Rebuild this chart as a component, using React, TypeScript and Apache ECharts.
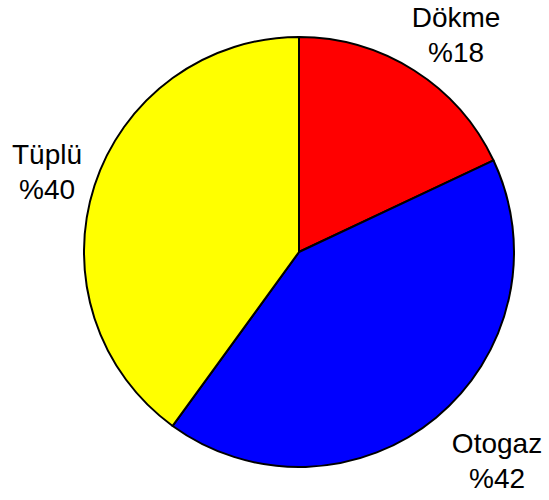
import React, { useEffect, useRef } from "react";
import * as echarts from "echarts";

const categories = ["Dökme", "Otogaz", "Tüplü"];
const values = [18, 42, 40];
const colors = ["#FF0000", "#0000FF", "#FFFF00"];
// label block centres (layout only)
const labelPos = [
  [456, 35],
  [497, 461],
  [47, 172],
];

export default function App() {
  const ref = useRef<HTMLDivElement>(null);
  useEffect(() => {
    if (!ref.current) return;
    const chart = echarts.init(ref.current, undefined, { renderer: "svg" });
    chart.setOption({
      animation: false,
      backgroundColor: "#ffffff",
      series: [
        {
          type: "pie",
          center: [299, 252],
          radius: 215,
          startAngle: 90,
          clockwise: true,
          avoidLabelOverlap: false,
          data: categories.map((c, i) => ({
            name: c,
            value: values[i],
            itemStyle: { color: colors[i] },
          })),
          itemStyle: { borderColor: "#000000", borderWidth: 2 },
          label: {
            show: true,
            position: "outside",
            formatter: "{b}\n%{c}",
            color: "#000000",
            fontFamily: "Liberation Sans, Arial, sans-serif",
            fontSize: 28,
            lineHeight: 35,
            align: "center",
            overflow: "none",
            width: 200,
          },
          labelLine: { show: false },
          labelLayout: (params: any) => ({
            x: labelPos[params.dataIndex][0],
            y: labelPos[params.dataIndex][1],
            align: "center",
            verticalAlign: "middle",
          }),
          emphasis: { disabled: true },
        },
      ],
    });
    return () => chart.dispose();
  }, []);
  return (
    <div
      ref={ref}
      style={{ position: "fixed", left: 0, top: 0, width: 549, height: 500 }}
    />
  );
}
